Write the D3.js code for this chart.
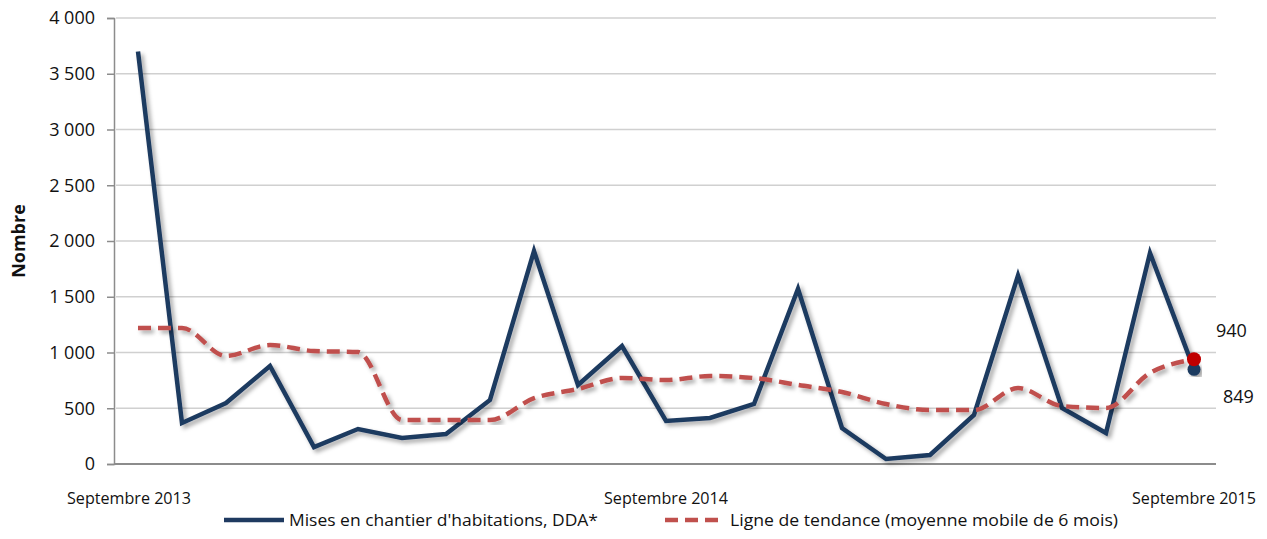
<!DOCTYPE html>
<html lang="fr">
<head>
<meta charset="UTF-8">
<title>Mises en chantier d'habitations</title>
<script src="https://d3js.org/d3.v7.min.js"></script>
<style>
  body { margin: 0; background: #fff; }
  svg { display: block; font-family: "Open Sans", "Liberation Sans", Arial, sans-serif; }
  .narrow { font-family: "Liberation Sans Narrow", "Open Sans", Arial, sans-serif; }
</style>
</head>
<body>
<div id="chart"></div>
<script>
// Monthly points, Sept 2013 -> Sept 2015
const months = d3.range(25);
const xLabels = { 0: "Septembre 2013", 12: "Septembre 2014", 24: "Septembre 2015" };
const starts = [3700, 368, 547, 879, 152, 314, 233, 269, 574, 1910, 708, 1058, 386,
                413, 538, 1570, 323, 45, 81, 440, 1690, 502, 278, 1892, 849];
const trend = [1220, 1220, 969, 1067, 1013, 1004, 395, 395, 395, 590, 673, 771, 753,
               789, 771, 709, 646, 538, 484, 484, 681, 520, 502, 816, 940];
const yTicks = [0, 500, 1000, 1500, 2000, 2500, 3000, 3500, 4000];

const width = 1267, height = 539;
const margin = { top: 18, right: 51, bottom: 75, left: 116 };

const svg = d3.select("#chart").append("svg")
  .attr("width", width).attr("height", height);

const defs = svg.append("defs");
const f = defs.append("filter").attr("id", "shadow")
  .attr("x", "-5%").attr("y", "-5%").attr("width", "110%").attr("height", "110%");
f.append("feDropShadow").attr("dx", 3).attr("dy", 3).attr("stdDeviation", 2)
  .attr("flood-color", "#000").attr("flood-opacity", 0.35);

const x = d3.scalePoint().domain(months)
  .range([margin.left, width - margin.right]).padding(0.5);
const y = d3.scaleLinear().domain([0, 4000])
  .range([height - margin.bottom, margin.top]);

const fmt = v => d3.format(",")(v).replace(",", " ");

// grid
svg.append("g").selectAll("line").data(yTicks.filter(d => d > 0)).join("line")
  .attr("x1", margin.left).attr("x2", width - margin.right)
  .attr("y1", d => y(d)).attr("y2", d => y(d))
  .attr("stroke", "#d0d0d0").attr("stroke-width", 1.5);

// y axis
const yAxis = svg.append("g").attr("transform", `translate(${margin.left - 2},0)`)
  .call(d3.axisLeft(y).tickValues(yTicks).tickFormat(fmt).tickSize(7).tickPadding(12));
yAxis.select(".domain").attr("stroke", "#8c8c8c").attr("stroke-width", 1.5);
yAxis.selectAll(".tick line").attr("stroke", "#8c8c8c").attr("stroke-width", 1.5);
yAxis.selectAll("text").attr("class", "narrow").attr("font-size", 18).attr("fill", "#111");

// x axis line
svg.append("line")
  .attr("x1", margin.left - 2).attr("x2", width - margin.right)
  .attr("y1", y(0)).attr("y2", y(0))
  .attr("stroke", "#8c8c8c").attr("stroke-width", 2);

svg.append("g").selectAll("text").data(Object.keys(xLabels).map(Number)).join("text")
  .attr("class", "narrow")
  .attr("x", d => x(d) - (d === 0 ? 9 : 0)).attr("y", 504)
  .attr("text-anchor", "middle").attr("font-size", 17).attr("fill", "#111")
  .attr("textLength", 124).attr("lengthAdjust", "spacingAndGlyphs")
  .text(d => xLabels[d]);

// y title
svg.append("text")
  .attr("transform", `translate(25,${(margin.top + height - margin.bottom) / 2}) rotate(-90)`)
  .attr("text-anchor", "middle").attr("font-size", 18).attr("font-weight", "bold")
  .attr("fill", "#111").text("Nombre");

// series
const lineStarts = d3.line().x((d, i) => x(i)).y(d => y(d));
const lineTrend = d3.line().x((d, i) => x(i)).y(d => y(d)).curve(d3.curveMonotoneX);

svg.append("path").datum(starts)
  .attr("d", lineStarts).attr("fill", "none")
  .attr("stroke", "#1f3a60").attr("stroke-width", 4.5)
  .attr("stroke-linejoin", "miter").attr("filter", "url(#shadow)");

svg.append("path").datum(trend)
  .attr("d", lineTrend).attr("fill", "none")
  .attr("stroke", "#c0504d").attr("stroke-width", 4.5)
  .attr("stroke-dasharray", "13 7").attr("filter", "url(#shadow)");

// end markers and labels
const last = months.length - 1;
svg.append("circle").attr("cx", x(last)).attr("cy", y(starts[last])).attr("r", 6.5)
  .attr("fill", "#1f3a60").attr("filter", "url(#shadow)");
svg.append("circle").attr("cx", x(last)).attr("cy", y(trend[last])).attr("r", 7)
  .attr("fill", "#c00000");

svg.append("text").attr("x", 1216).attr("y", 337).attr("font-size", 18)
  .attr("fill", "#111").text(trend[last]);
svg.append("text").attr("x", 1223).attr("y", 403).attr("font-size", 18)
  .attr("fill", "#111").text(starts[last]);

// legend
const leg = svg.append("g").attr("class", "narrow");
leg.append("line").attr("x1", 224).attr("x2", 284).attr("y1", 520).attr("y2", 520)
  .attr("stroke", "#1f3a60").attr("stroke-width", 4.5);
leg.append("text").attr("x", 289).attr("y", 526).attr("font-size", 17).attr("fill", "#111")
  .attr("textLength", 309).attr("lengthAdjust", "spacingAndGlyphs")
  .text("Mises en chantier d'habitations, DDA*");
leg.append("line").attr("x1", 665).attr("x2", 720).attr("y1", 520).attr("y2", 520)
  .attr("stroke", "#c0504d").attr("stroke-width", 4.5).attr("stroke-dasharray", "13 7");
leg.append("text").attr("x", 730).attr("y", 526).attr("font-size", 17).attr("fill", "#111")
  .attr("textLength", 388).attr("lengthAdjust", "spacingAndGlyphs")
  .text("Ligne de tendance  (moyenne mobile de 6 mois)");
</script>
</body>
</html>
